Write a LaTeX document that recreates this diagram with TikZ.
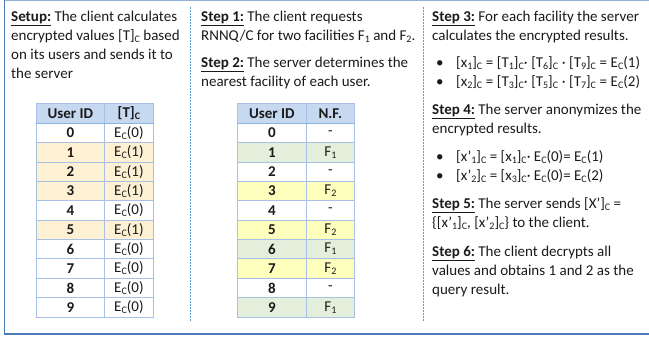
\documentclass[tikz,border=0pt]{standalone}
\usepackage{fontspec}
\setmainfont{Carlito}
\definecolor{framec}{HTML}{4A7EBB}
\definecolor{sepc}{HTML}{5B9BD5}
\definecolor{gridc}{HTML}{A8C0E4}
\definecolor{headc}{HTML}{C6D9F1}
\definecolor{headline}{HTML}{8DB3E2}
\definecolor{orangec}{HTML}{FDF0D3}
\definecolor{greenc}{HTML}{E3EFDA}
\definecolor{yellowc}{HTML}{FFFFBD}
\definecolor{textc}{HTML}{1A1A1A}
\newcommand{\ssub}[1]{\raisebox{-2pt}{\fontsize{10}{10}\selectfont #1}}
\newcommand{\stepl}[1]{\underline{\textbf{#1}}}
\newcommand{\wsp}{\hspace{3.6pt}}
\begin{document}
\begin{tikzpicture}[x=1pt,y=-1pt,
  txt/.style={anchor=base west, inner sep=0pt, text=textc, font=\fontsize{15}{18}\selectfont},
  cellbox/.style={draw=gridc, line width=0.8pt, minimum width=#1, minimum height=19.35pt, inner sep=0pt, anchor=north west, text=textc, font=\fontsize{15}{18}\selectfont},
  sep/.style={draw=sepc, line width=0.8pt, dash pattern=on 1.5pt off 1.5pt}
]
\useasboundingbox (0,0) rectangle (649,343);
% frame
\draw[framec!60, line width=0.8pt] (4.5,0.3) -- (660,0.3);
\begin{scope}[yshift=4pt]
\draw[framec, line width=1.4pt] (4.5,-3.7) -- (4.5,338) -- (660,338);
% separators
\coordinate (s1a) at (190.5,11); \coordinate (s1b) at (190.5,325);
\coordinate (s2a) at (423.5,11); \coordinate (s2b) at (423.5,325);
\draw[sep] (s1a) -- (s1b);
\draw[sep] (s2a) -- (s2b);

% column 1 text
\node[txt] (c1l1) at (11,25) {\stepl{Setup:} The client calculates};
\node[txt] (c1l2) at (11,44) {encrypted values [T]\ssub{C} based};
\node[txt] (c1l3) at (11,63) {on its users and sends it to};
\node[txt] (c1l4) at (11,82) {the server};

% column 2 text
\node[txt] (c2l1) at (201,25) {\stepl{Step 1:} The client requests};
\node[txt] (c2l2) at (201,44) {RNNQ/C for two facilities F\ssub{1} and F\ssub{2}.};
\node[txt] (c2l3) at (201,71) {\stepl{Step 2:} The server determines the};
\node[txt] (c2l4) at (201,90) {nearest facility of each user.};

% column 3 text
\node[txt] (c3l1) at (432,25) {\stepl{Step 3:} For each facility the server};
\node[txt] (c3l2) at (432,44) {calculates the encrypted results.};
\node[txt] (c3b1) at (436,71) {•};
\node[txt] (c3l3) at (456,71) {[x\ssub{1}]\ssub{C}\wsp=\wsp[T\ssub{1}]\ssub{C}·\wsp[T\ssub{6}]\ssub{C}\wsp·\wsp[T\ssub{9}]\ssub{C}\wsp=\wsp E\ssub{C}(1)};
\node[txt] (c3b2) at (436,90) {•};
\node[txt] (c3l4) at (456,90) {[x\ssub{2}]\ssub{C}\wsp=\wsp[T\ssub{3}]\ssub{C}·\wsp[T\ssub{5}]\ssub{C}\wsp·\wsp[T\ssub{7}]\ssub{C}\wsp=\wsp E\ssub{C}(2)};
\node[txt] (c3l5) at (432,118) {\stepl{Step 4:} The server anonymizes the};
\node[txt] (c3l6) at (432,137) {encrypted results.};
\node[txt] (c3b3) at (436,165.5) {•};
\node[txt] (c3l7) at (456,165.5) {[x’\ssub{1}]\ssub{C} = [x\ssub{1}]\ssub{C}· E\ssub{C}(0)= E\ssub{C}(1)};
\node[txt] (c3b4) at (436,184) {•};
\node[txt] (c3l8) at (456,184) {[x’\ssub{2}]\ssub{C} = [x\ssub{3}]\ssub{C}· E\ssub{C}(0)= E\ssub{C}(2)};
\node[txt] (c3l9) at (432,212.5) {\stepl{Step 5:} The server sends [X’]\ssub{C} =};
\node[txt] (c3l10) at (432,231.5) {\{[x’\ssub{1}]\ssub{C}, [x’\ssub{2}]\ssub{C}\} to the client.};
\node[txt] (c3l11) at (432,260) {\stepl{Step 6:} The client decrypts all};
\node[txt] (c3l12) at (432,279) {values and obtains 1 and 2 as the};
\node[txt] (c3l13) at (432,298) {query result.};

% table 1
\node[cellbox=68pt, fill=headc, font=\fontsize{15}{18}\selectfont\bfseries] (t1h1) at (36,107.3) {User ID};
\node[cellbox=49pt, fill=headc, font=\fontsize{15}{18}\selectfont\bfseries] (t1h2) at (104,107.3) {[T]\ssub{C}};
\foreach \i/\v/\f in {0/0/white,1/1/orangec,2/1/orangec,3/1/orangec,4/0/white,5/1/orangec,6/0/white,7/0/white,8/0/white,9/0/white}{
  \node[cellbox=68pt, fill=\f, font=\fontsize{15}{18}\selectfont\bfseries] (t1a\i) at (36,127+19.35*\i) {\i};
  \node[cellbox=49pt, fill=\f] (t1b\i) at (104,127+19.35*\i) {E\ssub{C}(\v)};
}
\draw[headline, line width=1.8pt] (t1h1.south west) -- (t1h2.south east);

% table 2
\node[cellbox=69pt, fill=headc, font=\fontsize{15}{18}\selectfont\bfseries] (t2h1) at (237,107.3) {User ID};
\node[cellbox=48pt, fill=headc, font=\fontsize{15}{18}\selectfont\bfseries] (t2h2) at (306,107.3) {N.F.};
\foreach \i/\v/\f in {0/-/white,1/F\ssub{1}/greenc,2/-/white,3/F\ssub{2}/yellowc,4/-/white,5/F\ssub{2}/yellowc,6/F\ssub{1}/greenc,7/F\ssub{2}/yellowc,8/-/white,9/F\ssub{1}/greenc}{
  \node[cellbox=69pt, fill=\f, font=\fontsize{15}{18}\selectfont\bfseries] (t2a\i) at (237,127+19.35*\i) {\i};
  \node[cellbox=48pt, fill=\f] (t2b\i) at (306,127+19.35*\i) {\v};
}
\draw[headline, line width=1.8pt] (t2h1.south west) -- (t2h2.south east);
\end{scope}
\end{tikzpicture}
\end{document}
